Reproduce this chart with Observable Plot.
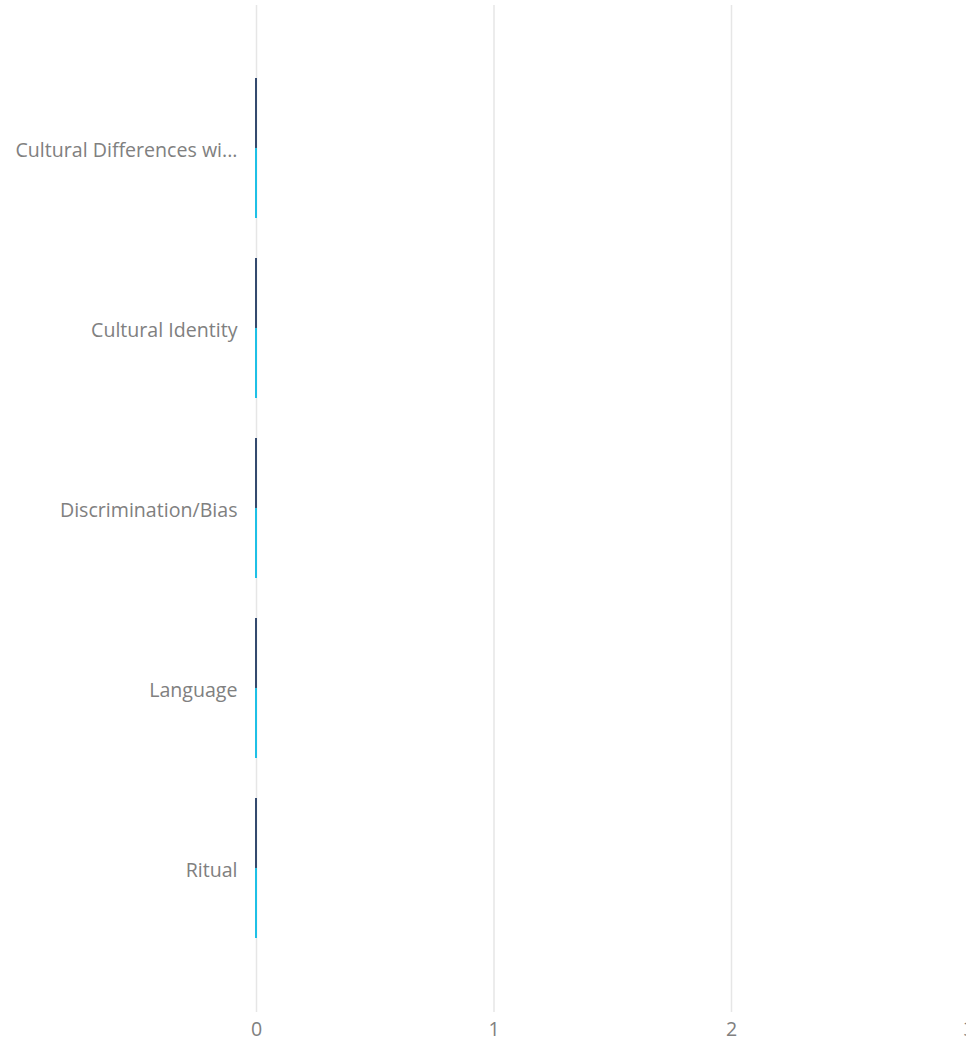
<!DOCTYPE html>
<html>
<head>
<meta charset="utf-8">
<script src="https://cdn.jsdelivr.net/npm/d3@7"></script>
<script src="https://cdn.jsdelivr.net/npm/@observablehq/plot@0.6"></script>
<style>
  html, body { margin: 0; padding: 0; background: #fff; overflow: hidden; }
  #chart svg { display: block; }
</style>
</head>
<body>
<div id="chart"></div>
<script>
const categories = [
  "Cultural Differences with Others",
  "Cultural Identity",
  "Discrimination/Bias",
  "Language",
  "Ritual"
];
const seriesNames = ["Series 1", "Series 2"];
const series1Values = [0, 0, 0, 0, 0];
const series2Values = [0, 0, 0, 0, 0];
const xTicks = [0, 1, 2, 3];
const seriesColors = ["#344a6e", "#1ec0e6"];

const rows1 = categories.map((c, i) => ({category: c, series: seriesNames[0], value: series1Values[i]}));
const rows2 = categories.map((c, i) => ({category: c, series: seriesNames[1], value: series2Values[i]}));

const W = 966, H = 1041;
const yOpts = {type: "band", domain: categories, range: [5, 1012], paddingInner: 0.222, paddingOuter: 0.408};
const bw = Plot.scale({y: yOpts}).bandwidth;

const trunc = s => s.length > 23 ? s.slice(0, 23) + "..." : s;

const chart = Plot.plot({
  width: W,
  height: H,
  marginTop: 5,
  marginBottom: 29,
  marginLeft: 256,
  marginRight: 0,
  style: {fontFamily: "'Open Sans', 'Noto Sans', sans-serif", fontSize: "19.6px", color: "#808080", background: "#fff", overflow: "visible"},
  x: {domain: [0, 3], range: [256, 968.5], ticks: xTicks, tickFormat: "d", tickSize: 0, tickPadding: 10, label: null, grid: false},
  y: {...yOpts, tickSize: 0, tickPadding: 19, label: null, tickFormat: trunc},
  color: {domain: seriesNames, range: seriesColors},
  marks: [
    Plot.ruleX(xTicks, {stroke: "#e6e6e6", strokeWidth: 1.5, strokeOpacity: 1}),
    Plot.barX(rows1, {y: "category", x: "value", fill: "series", insetBottom: bw / 2, insetLeft: -1, insetRight: -1}),
    Plot.barX(rows2, {y: "category", x: "value", fill: "series", insetTop: bw / 2, insetLeft: -1, insetRight: -1})
  ]
});
chart.querySelectorAll("g[aria-label='y-axis'] text, g[aria-label='y-axis tick label'] text").forEach(t => t.setAttribute("transform", (t.getAttribute("transform") || "") + " translate(0,2)"));
document.getElementById("chart").appendChild(chart);
</script>
</body>
</html>
